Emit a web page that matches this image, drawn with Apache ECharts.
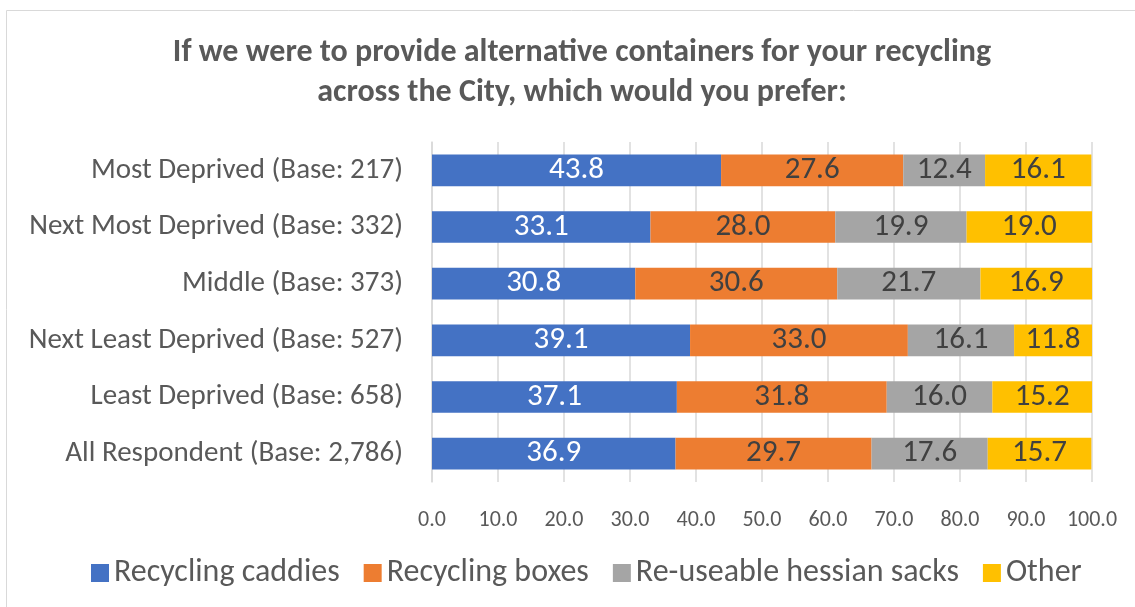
<!DOCTYPE html>
<html>
<head>
<meta charset="utf-8">
<script src="https://cdn.jsdelivr.net/npm/echarts@6/dist/echarts.min.js"></script>
<style>
html, body { margin: 0; padding: 0; background: #fff; }
#main { width: 1135px; height: 607px; }
</style>
</head>
<body>
<div id="main"></div>
<script>
// categories, top to bottom
var categories = [
    'Most Deprived (Base: 217)',
    'Next Most Deprived (Base: 332)',
    'Middle (Base: 373)',
    'Next Least Deprived (Base: 527)',
    'Least Deprived (Base: 658)',
    'All Respondent (Base: 2,786)'
];
var caddies = [43.8, 33.1, 30.8, 39.1, 37.1, 36.9];
var boxes = [27.6, 28.0, 30.6, 33.0, 31.8, 29.7];
var sacks = [12.4, 19.9, 21.7, 16.1, 16.0, 17.6];
var other = [16.1, 19.0, 16.9, 11.8, 15.2, 15.7];
var seriesNames = ['Recycling caddies', 'Recycling boxes', 'Re-useable hessian sacks', 'Other'];

var FONT = 'Carlito, "Liberation Sans Narrow", "Noto Sans", sans-serif';
var colors = ['#4472C4', '#ED7D31', '#A5A5A5', '#FFC000'];

function mk(name, data, color, labelColor) {
    return {
        name: name,
        type: 'bar',
        stack: 'all',
        data: data,
        barCategoryGap: '44%',
        itemStyle: { color: color },
        label: {
            show: true,
            position: 'inside',
            formatter: function(p) { return p.value.toFixed(1); },
            color: labelColor,
            fontFamily: FONT,
            fontSize: 31
        }
    };
}

var chart = echarts.init(document.getElementById('main'));
chart.setOption({
    animation: false,
    title: {
        text: 'If we were to provide alternative containers for your recycling\nacross the City, which would you prefer:',
        left: 577,
        textAlign: 'center',
        top: 28,
        textStyle: {
            fontFamily: FONT,
            fontSize: 32,
            fontWeight: 'bold',
            color: '#595959',
            lineHeight: 40
        }
    },
    legend: {
        top: 552,
        left: 86,
        itemWidth: 18,
        itemHeight: 18,
        itemGap: 24,
        icon: 'rect',
        textStyle: { fontFamily: FONT, fontSize: 32, color: '#595959' },
        data: seriesNames
    },
    grid: { left: 432, right: 43, top: 142, bottom: 125 },
    xAxis: {
        type: 'value',
        min: 0,
        max: 100,
        interval: 10,
        axisLine: { show: false },
        axisTick: { show: false },
        splitLine: { lineStyle: { color: '#D9D9D9', width: 1.5 } },
        axisLabel: {
            margin: 27,
            fontFamily: FONT,
            fontSize: 22,
            color: '#595959',
            formatter: function(v) { return v.toFixed(1); }
        }
    },
    yAxis: {
        type: 'category',
        inverse: true,
        data: categories,
        axisLine: { lineStyle: { color: '#D9D9D9', width: 1.5 } },
        axisTick: { show: false },
        axisLabel: { margin: 29, fontFamily: FONT, fontSize: 29, color: '#595959' }
    },
    graphic: [{
        type: 'rect',
        shape: { x: 6.5, y: 10.5, width: 1140, height: 610 },
        style: { fill: 'none', stroke: '#D9D9D9', lineWidth: 1 },
        silent: true
    }],
    series: [
        mk(seriesNames[0], caddies, colors[0], '#FFFFFF'),
        mk(seriesNames[1], boxes, colors[1], '#404040'),
        mk(seriesNames[2], sacks, colors[2], '#404040'),
        mk(seriesNames[3], other, colors[3], '#404040')
    ]
});
</script>
</body>
</html>
